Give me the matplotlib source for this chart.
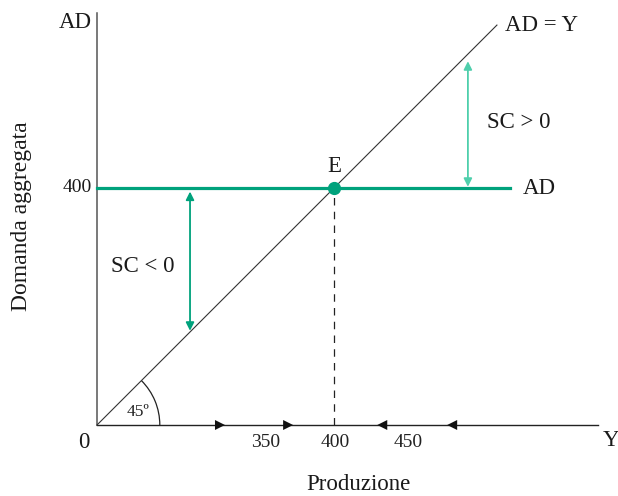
import numpy as np
import matplotlib.pyplot as plt
from matplotlib.patches import Arc

plt.rcParams['font.family'] = ['Liberation Serif', 'DejaVu Serif']

# valori del grafico (unita' economiche)
y_eq = 400                      # domanda aggregata autonoma
x_eq = 400                      # equilibrio E
line_end = 675                  # fine della retta a 45 gradi
ad_end = 697                    # fine della retta AD
sc_pos_x = 626                  # freccia SC > 0
sc_neg_x = 157                  # freccia SC < 0
right_arrows = [216, 331]       # frecce verso destra sull'asse
left_arrows = [473, 591]        # frecce verso sinistra sull'asse
x_tick_labels = ['350', '400', '450']
x_tick_pos = [285, 402, 525]

green = '#00a27c'
light_green = '#4fcfac'

s = 237 / 400   # pixel per unita'
fig = plt.figure(figsize=(6.18, 4.96), dpi=100)
ax = fig.add_axes([0, 0, 1, 1])
ax.set_xlim(-97 / s, (618 - 97) / s)
ax.set_ylim(-(496 - 425) / s, 425 / s)
ax.axis('off')

# assi
ax.plot([0, 0], [0, 695], color='#555555', lw=1.1)
ax.plot([0, 846], [0, 0], color='#222222', lw=1.0)

# retta a 45 gradi e AD
ax.plot([0, line_end], [0, line_end], color='#333333', lw=0.8)
ax.plot([0, ad_end], [y_eq, y_eq], color=green, lw=2.3)
ax.plot([x_eq, x_eq], [0, y_eq], color='#222222', lw=0.9, ls=(0, (6, 5)))
ax.plot([x_eq], [y_eq], 'o', color=green, ms=8.5)

# arco 45
ax.add_patch(Arc((0, 0), 2 * 106, 2 * 106, theta1=0, theta2=45, color='#222222', lw=0.9))
ax.text(70, 22, '45º', fontsize=12.5, ha='center', va='center', color='#222222')

# frecce SC
ax.annotate('', xy=(sc_pos_x, sc_pos_x - 12), xytext=(sc_pos_x, y_eq + 2),
            arrowprops=dict(arrowstyle='<|-|>', color=light_green, lw=1.3,
                            mutation_scale=12, shrinkA=0, shrinkB=0))
ax.annotate('', xy=(sc_neg_x, sc_neg_x + 2), xytext=(sc_neg_x, y_eq - 6),
            arrowprops=dict(arrowstyle='<|-|>', color=green, lw=1.3,
                            mutation_scale=12, shrinkA=0, shrinkB=0))

# frecce sull'asse x
for xa in right_arrows:
    ax.annotate('', xy=(xa, 0), xytext=(xa - 20, 0),
                arrowprops=dict(arrowstyle='-|>', color='#111111', lw=0,
                                mutation_scale=18, shrinkA=0, shrinkB=0))
for xa in left_arrows:
    ax.annotate('', xy=(xa, 0), xytext=(xa + 20, 0),
                arrowprops=dict(arrowstyle='-|>', color='#111111', lw=0,
                                mutation_scale=18, shrinkA=0, shrinkB=0))
for lab, xp in zip(x_tick_labels, x_tick_pos):
    ax.text(xp, -29, lab, fontsize=14, ha='center', va='center', color='#222222')

# testi
tc = '#1a1a1a'
fs = 16.5
ax.text(x_eq, 436, 'E', fontsize=fs, ha='center', va='center', color=tc)
ax.text(750, 675, 'AD = Y', fontsize=fs, ha='center', va='center', color=tc)
ax.text(747, y_eq, 'AD', fontsize=fs, ha='center', va='center', color=tc)
ax.text(711, 511, 'SC > 0', fontsize=fs, ha='center', va='center', color=tc)
ax.text(78, 267, 'SC < 0', fontsize=fs, ha='center', va='center', color=tc)
ax.text(-37, 680, 'AD', fontsize=fs, ha='center', va='center', color=tc)
ax.text(-34, y_eq, '400', fontsize=14, ha='center', va='center', color=tc)
ax.text(-22, -29, '0', fontsize=fs, ha='center', va='center', color=tc)
ax.text(867, -27, 'Y', fontsize=fs, ha='center', va='center', color=tc)
ax.text(441, -100, 'Produzione', fontsize=16.5, ha='center', va='center', color=tc)
ax.text(-128, 353, 'Domanda aggregata', fontsize=17, ha='center', va='center',
        rotation=90, color=tc)

fig.savefig('out.png', dpi=100)
